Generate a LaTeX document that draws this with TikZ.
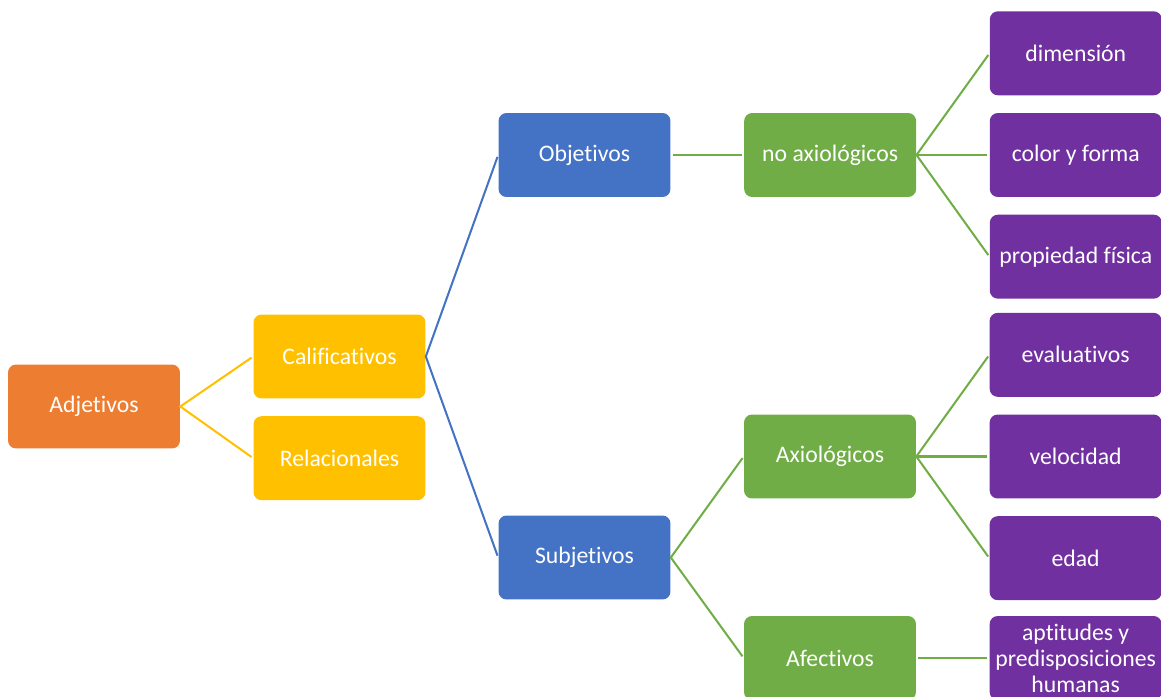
\documentclass[tikz,border=0pt]{standalone}
\usepackage{fontspec}
\setmainfont{Carlito}[Ligatures=NoCommon]
\usetikzlibrary{positioning}
\definecolor{AdjOrange}{HTML}{ED7D31}
\definecolor{CalGold}{HTML}{FFC000}
\definecolor{ObjBlue}{HTML}{4472C4}
\definecolor{AxGreen}{HTML}{70AD47}
\definecolor{LeafPurple}{HTML}{7030A0}

\begin{document}
\begin{tikzpicture}[x=0.02cm,y=-0.02cm,node distance=0.34cm and 1.46cm,
    box/.style={rounded corners=0.16cm,minimum width=3.44cm,minimum height=1.68cm,
      align=center,text=white,inner sep=1pt,font=\fontsize{13.5}{14.8}\selectfont},
    link/.style={line width=1.15pt,shorten <=0.04cm,shorten >=0.04cm}]
      \useasboundingbox (0,0) rectangle (1161,697);
      % levels 1 to 3
      \node[box,fill=AdjOrange] (adj) at (94,406.5) {Adjetivos};
      \node[box,fill=CalGold] (cal) at (339.5,356.5) {Calificativos};
      \node[box,fill=CalGold,below=of cal] (rel) {Relacionales};
      \node[box,fill=ObjBlue] (obj) at (584.5,155) {Objetivos};
      \node[box,fill=ObjBlue] (sub) at (584.5,557.5) {Subjetivos};
      % level 4
      \node[box,fill=AxGreen,right=of obj] (noax) {no axiológicos};
      \node[box,fill=AxGreen] (ax) at (830,456.5) {Axiológicos};
      \node[box,fill=AxGreen] (afe) at (830,658) {Afectivos};
      % level 5
      \node[box,fill=LeafPurple,right=of noax] (col) {color y forma};
      \node[box,fill=LeafPurple,above=of col] (dim) {dimensión};
      \node[box,fill=LeafPurple,below=of col] (prop) {propiedad física};
      \node[box,fill=LeafPurple,right=of ax] (vel) {velocidad};
      \node[box,fill=LeafPurple,above=of vel] (eva) {evaluativos};
      \node[box,fill=LeafPurple,below=of vel] (eda) {edad};
      \node[box,fill=LeafPurple,right=of afe] (apt) {aptitudes y\\predisposiciones\\humanas};
      % connectors
      \draw[link,CalGold] (cal.west) -- (adj.east) -- (rel.west);
      \draw[link,ObjBlue] (obj.west) -- (cal.east) -- (sub.west);
      \draw[link,AxGreen] (obj) -- (noax);
      \draw[link,AxGreen] (ax.west) -- (sub.east) -- (afe.west);
      \draw[link,AxGreen] (dim.west) -- (noax.east) -- (prop.west);
      \draw[link,AxGreen] (noax) -- (col);
      \draw[link,AxGreen] (eva.west) -- (ax.east) -- (eda.west);
      \draw[link,AxGreen] (ax) -- (vel);
      \draw[link,AxGreen] (afe) -- (apt);
\end{tikzpicture}
\end{document}
